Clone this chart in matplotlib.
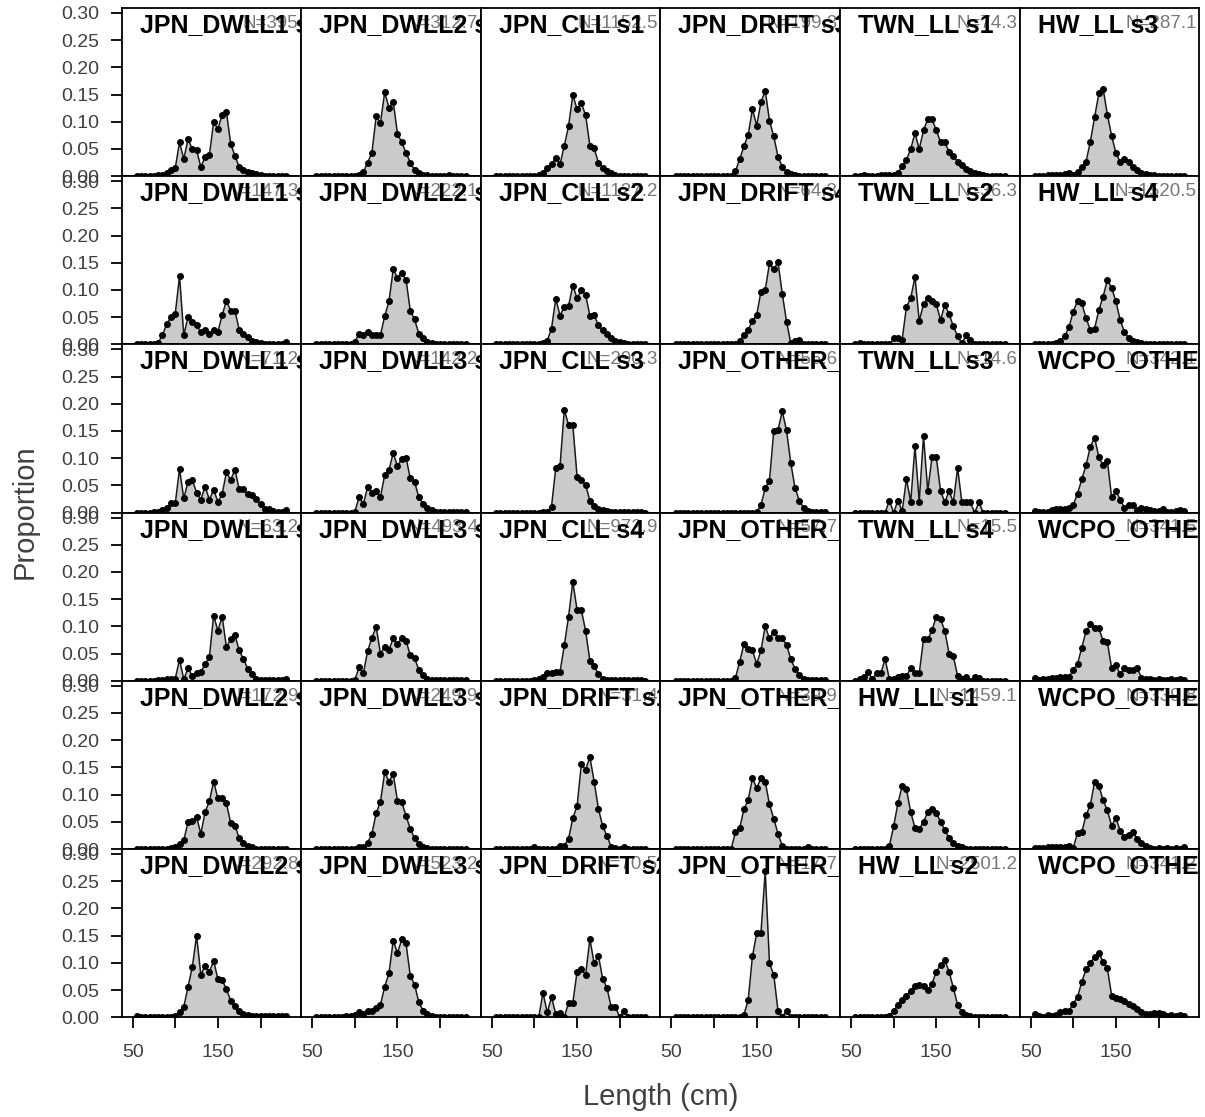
import numpy as np
import matplotlib.pyplot as plt

plt.rcParams['font.family'] = ['Liberation Sans', 'DejaVu Sans']

# length bins (cm)
lengths = [55, 60, 65, 70, 75, 80, 85, 90, 95, 100, 105, 110,
           115, 120, 125, 130, 135, 140, 145, 150, 155, 160, 165, 170,
           175, 180, 185, 190, 195, 200, 205, 210, 215, 220, 225, 230]

# observed proportions by fleet / season
jpn_dwll1_s1 = [0.001,0.001,0.001,0.001,0.001,0.002, 0.002,0.006,0.011,0.015,0.062,0.032,
                0.068,0.050,0.048,0.017,0.035,0.039, 0.099,0.087,0.113,0.118,0.060,0.037,
                0.017,0.012,0.008,0.006,0.004,0.002, 0.001,0.001,0.001,0.001,0.001,0.001]
jpn_dwll1_s2 = [0.000,0.000,0.000,0.000,0.001,0.003, 0.017,0.038,0.050,0.056,0.126,0.017,
                0.051,0.042,0.035,0.023,0.026,0.020, 0.026,0.023,0.054,0.080,0.062,0.062,
                0.027,0.020,0.014,0.007,0.004,0.002, 0.001,0.001,0.001,0.001,0.001,0.004]
jpn_dwll1_s3 = [0.000,0.000,0.000,0.000,0.001,0.002, 0.004,0.008,0.017,0.017,0.080,0.026,
                0.057,0.060,0.037,0.024,0.048,0.024, 0.042,0.020,0.034,0.074,0.060,0.079,
                0.043,0.043,0.034,0.033,0.025,0.016, 0.007,0.006,0.003,0.002,0.001,0.004]
jpn_dwll1_s4 = [0.000,0.000,0.000,0.000,0.000,0.001, 0.002,0.004,0.003,0.004,0.039,0.003,
                0.023,0.009,0.014,0.016,0.031,0.043, 0.120,0.092,0.118,0.062,0.076,0.084,
                0.056,0.040,0.022,0.012,0.004,0.002, 0.001,0.001,0.001,0.001,0.001,0.003]
jpn_dwll2_s1 = [0.000,0.000,0.000,0.000,0.000,0.000, 0.000,0.001,0.002,0.004,0.009,0.016,
                0.050,0.051,0.059,0.028,0.068,0.088, 0.124,0.093,0.094,0.084,0.048,0.043,
                0.020,0.012,0.006,0.003,0.001,0.001, 0.001,0.001,0.001,0.001,0.001,0.001]
jpn_dwll2_s2 = [0.002,0.000,0.000,0.000,0.000,0.000, 0.000,0.001,0.001,0.003,0.009,0.019,
                0.056,0.092,0.150,0.078,0.095,0.083, 0.104,0.070,0.068,0.052,0.030,0.020,
                0.011,0.006,0.004,0.003,0.002,0.002, 0.002,0.002,0.002,0.002,0.002,0.003]
jpn_dwll2_s3 = [0.000,0.000,0.000,0.000,0.000,0.000, 0.000,0.000,0.000,0.001,0.003,0.008,
                0.025,0.043,0.110,0.098,0.154,0.126, 0.137,0.078,0.062,0.043,0.025,0.012,
                0.006,0.003,0.002,0.001,0.001,0.001, 0.001,0.002,0.001,0.001,0.001,0.000]
jpn_dwll2_s4 = [0.000,0.000,0.000,0.000,0.000,0.000, 0.000,0.000,0.001,0.005,0.020,0.017,
                0.023,0.017,0.017,0.017,0.052,0.079, 0.138,0.122,0.131,0.119,0.062,0.046,
                0.020,0.011,0.005,0.003,0.001,0.001, 0.001,0.001,0.001,0.001,0.001,0.000]
jpn_dwll3_s1 = [0.000,0.000,0.000,0.000,0.000,0.000, 0.000,0.000,0.000,0.002,0.028,0.016,
                0.047,0.037,0.040,0.029,0.069,0.078, 0.110,0.085,0.099,0.101,0.063,0.057,
                0.028,0.016,0.008,0.004,0.002,0.001, 0.001,0.001,0.001,0.001,0.001,0.001]
jpn_dwll3_s2 = [0.000,0.000,0.000,0.000,0.000,0.000, 0.000,0.000,0.000,0.002,0.025,0.014,
                0.055,0.079,0.099,0.050,0.062,0.057, 0.078,0.068,0.078,0.074,0.047,0.042,
                0.020,0.011,0.004,0.002,0.001,0.001, 0.001,0.001,0.001,0.001,0.001,0.001]
jpn_dwll3_s3 = [0.000,0.000,0.000,0.000,0.000,0.000, 0.000,0.000,0.000,0.001,0.003,0.003,
                0.012,0.028,0.066,0.087,0.141,0.124, 0.138,0.088,0.086,0.061,0.037,0.020,
                0.009,0.004,0.002,0.001,0.001,0.001, 0.001,0.001,0.001,0.001,0.001,0.001]
jpn_dwll3_s4 = [0.000,0.000,0.000,0.000,0.000,0.000, 0.001,0.003,0.002,0.004,0.009,0.006,
                0.012,0.012,0.017,0.023,0.056,0.081, 0.141,0.118,0.143,0.136,0.076,0.060,
                0.028,0.012,0.006,0.003,0.001,0.001, 0.001,0.001,0.001,0.001,0.001,0.000]
jpn_cll_s1 = [0.000,0.000,0.000,0.000,0.000,0.000, 0.000,0.000,0.000,0.001,0.002,0.005,
              0.015,0.022,0.034,0.022,0.056,0.092, 0.149,0.123,0.134,0.112,0.056,0.051,
              0.025,0.016,0.009,0.005,0.003,0.001, 0.001,0.001,0.001,0.001,0.001,0.001]
jpn_cll_s2 = [0.000,0.000,0.000,0.000,0.000,0.000, 0.000,0.000,0.000,0.000,0.001,0.002,
              0.007,0.029,0.084,0.053,0.069,0.071, 0.108,0.085,0.100,0.091,0.053,0.054,
              0.035,0.026,0.020,0.012,0.007,0.004, 0.002,0.001,0.001,0.001,0.001,0.001]
jpn_cll_s3 = [0.000,0.000,0.000,0.000,0.000,0.000, 0.000,0.000,0.000,0.000,0.000,0.001,
              0.002,0.011,0.082,0.086,0.189,0.161, 0.161,0.066,0.060,0.051,0.022,0.012,
              0.007,0.005,0.003,0.001,0.001,0.001, 0.001,0.001,0.001,0.001,0.001,0.000]
jpn_cll_s4 = [0.000,0.000,0.000,0.000,0.000,0.000, 0.000,0.000,0.000,0.001,0.003,0.008,
              0.014,0.014,0.016,0.017,0.065,0.118, 0.182,0.130,0.130,0.092,0.037,0.028,
              0.012,0.004,0.001,0.001,0.001,0.001, 0.001,0.001,0.001,0.001,0.001,0.000]
jpn_drift_s1 = [0.000,0.000,0.000,0.000,0.000,0.000, 0.000,0.000,0.000,0.004,0.000,0.000,
                0.000,0.000,0.000,0.006,0.006,0.019, 0.057,0.079,0.156,0.146,0.169,0.124,
                0.074,0.042,0.024,0.004,0.002,0.000, 0.003,0.001,0.001,0.001,0.001,0.001]
jpn_drift_s2 = [0.000,0.000,0.000,0.000,0.000,0.000, 0.000,0.000,0.000,0.000,0.000,0.045,
                0.009,0.037,0.006,0.008,0.000,0.027, 0.027,0.084,0.089,0.078,0.144,0.099,
                0.113,0.071,0.054,0.019,0.019,0.000, 0.012,0.000,0.000,0.000,0.000,0.000]
jpn_drift_s3 = [0.000,0.000,0.000,0.000,0.000,0.000, 0.000,0.000,0.000,0.000,0.000,0.000,
                0.000,0.001,0.009,0.031,0.055,0.076, 0.123,0.093,0.136,0.157,0.102,0.073,
                0.036,0.017,0.008,0.004,0.002,0.001, 0.001,0.001,0.001,0.001,0.001,0.000]
jpn_drift_s4 = [0.000,0.000,0.000,0.000,0.000,0.000, 0.000,0.000,0.000,0.000,0.000,0.000,
                0.000,0.000,0.001,0.007,0.017,0.027, 0.043,0.054,0.097,0.100,0.149,0.138,
                0.151,0.093,0.042,0.002,0.007,0.009, 0.001,0.001,0.000,0.000,0.000,0.000]
jpn_other_s1 = [0.000,0.000,0.000,0.000,0.000,0.000, 0.000,0.000,0.000,0.000,0.000,0.000,
                0.000,0.000,0.000,0.000,0.000,0.000, 0.000,0.001,0.014,0.045,0.059,0.150,
                0.152,0.186,0.151,0.091,0.045,0.022, 0.009,0.003,0.001,0.001,0.001,0.001]
jpn_other_s2 = [0.000,0.000,0.000,0.000,0.000,0.000, 0.000,0.000,0.000,0.000,0.000,0.000,
                0.000,0.000,0.005,0.035,0.067,0.059, 0.056,0.031,0.056,0.100,0.078,0.090,
                0.078,0.078,0.066,0.040,0.022,0.011, 0.004,0.001,0.001,0.001,0.001,0.001]
jpn_other_s3 = [0.000,0.000,0.000,0.000,0.000,0.000, 0.000,0.000,0.000,0.000,0.000,0.000,
                0.000,0.000,0.031,0.038,0.073,0.090, 0.130,0.112,0.130,0.124,0.082,0.056,
                0.028,0.006,0.001,0.001,0.001,0.001, 0.001,0.003,0.001,0.001,0.001,0.001]
jpn_other_s4 = [0.000,0.000,0.000,0.000,0.000,0.000, 0.000,0.000,0.000,0.000,0.000,0.000,
                0.000,0.000,0.000,0.000,0.005,0.031, 0.112,0.154,0.155,0.268,0.099,0.078,
                0.012,0.001,0.012,0.000,0.000,0.000, 0.000,0.000,0.000,0.000,0.000,0.000]
twn_ll_s1 = [0.000,0.001,0.002,0.001,0.001,0.001, 0.002,0.002,0.003,0.003,0.006,0.019,
             0.030,0.050,0.079,0.050,0.084,0.105, 0.105,0.084,0.063,0.062,0.045,0.037,
             0.027,0.020,0.014,0.010,0.006,0.004, 0.002,0.001,0.001,0.001,0.001,0.000]
twn_ll_s2 = [0.000,0.003,0.000,0.000,0.000,0.001, 0.000,0.001,0.000,0.011,0.011,0.009,
             0.069,0.085,0.124,0.043,0.074,0.085, 0.079,0.074,0.045,0.073,0.056,0.033,
             0.015,0.002,0.017,0.009,0.001,0.001, 0.000,0.000,0.000,0.000,0.000,0.000]
twn_ll_s3 = [0.000,0.000,0.000,0.000,0.000,0.000, 0.000,0.000,0.022,0.000,0.022,0.003,
             0.062,0.020,0.122,0.020,0.141,0.040, 0.102,0.102,0.040,0.019,0.040,0.019,
             0.082,0.019,0.019,0.019,0.000,0.019, 0.000,0.000,0.000,0.000,0.000,0.000]
twn_ll_s4 = [0.000,0.003,0.008,0.016,0.003,0.014, 0.014,0.040,0.003,0.003,0.008,0.009,
             0.009,0.023,0.014,0.014,0.076,0.076, 0.093,0.118,0.113,0.092,0.050,0.045,
             0.009,0.003,0.007,0.000,0.007,0.006, 0.000,0.000,0.000,0.000,0.000,0.000]
hw_ll_s1 = [0.000,0.000,0.000,0.000,0.000,0.000, 0.000,0.000,0.006,0.042,0.084,0.116,
            0.110,0.068,0.039,0.037,0.050,0.068, 0.074,0.066,0.050,0.035,0.020,0.011,
            0.005,0.003,0.001,0.001,0.001,0.001, 0.001,0.001,0.001,0.001,0.001,0.001]
hw_ll_s2 = [0.000,0.000,0.000,0.000,0.000,0.000, 0.000,0.000,0.003,0.012,0.023,0.032,
            0.040,0.048,0.058,0.059,0.058,0.050, 0.062,0.084,0.096,0.105,0.084,0.054,
            0.023,0.009,0.004,0.002,0.001,0.001, 0.001,0.001,0.001,0.001,0.001,0.001]
hw_ll_s3 = [0.001,0.001,0.001,0.002,0.002,0.002, 0.003,0.004,0.005,0.003,0.008,0.017,
            0.027,0.063,0.108,0.152,0.161,0.113, 0.074,0.043,0.026,0.031,0.026,0.017,
            0.011,0.006,0.004,0.003,0.002,0.001, 0.001,0.001,0.001,0.001,0.001,0.001]
hw_ll_s4 = [0.001,0.001,0.001,0.001,0.001,0.002, 0.007,0.015,0.032,0.060,0.080,0.076,
            0.048,0.027,0.029,0.063,0.088,0.118, 0.104,0.079,0.045,0.023,0.012,0.007,
            0.004,0.003,0.001,0.001,0.001,0.001, 0.001,0.001,0.001,0.001,0.001,0.001]
wcpo_other_s1 = [0.003,0.001,0.002,0.002,0.004,0.006, 0.007,0.006,0.009,0.014,0.035,0.061,
                 0.087,0.121,0.138,0.102,0.087,0.095, 0.028,0.040,0.024,0.009,0.014,0.014,
                 0.004,0.009,0.006,0.004,0.003,0.003, 0.006,0.002,0.002,0.003,0.005,0.003]
wcpo_other_s2 = [0.006,0.001,0.003,0.004,0.006,0.005, 0.008,0.007,0.008,0.020,0.031,0.061,
                 0.091,0.104,0.097,0.097,0.073,0.071, 0.023,0.029,0.012,0.023,0.020,0.020,
                 0.023,0.006,0.004,0.003,0.002,0.003, 0.002,0.002,0.003,0.002,0.003,0.002]
wcpo_other_s3 = [0.002,0.002,0.002,0.003,0.003,0.004, 0.003,0.004,0.006,0.002,0.030,0.031,
                 0.062,0.081,0.123,0.116,0.090,0.071, 0.043,0.057,0.034,0.022,0.026,0.031,
                 0.019,0.012,0.006,0.002,0.001,0.002, 0.001,0.002,0.001,0.002,0.001,0.003]
wcpo_other_s4 = [0.006,0.003,0.000,0.004,0.003,0.005, 0.009,0.012,0.012,0.025,0.037,0.065,
                 0.088,0.100,0.110,0.118,0.102,0.090, 0.040,0.036,0.033,0.030,0.025,0.020,
                 0.015,0.010,0.006,0.006,0.008,0.008, 0.006,0.003,0.005,0.002,0.004,0.003]

# panels are filled column by column
titles = ["JPN_DWLL1 s1", "JPN_DWLL1 s2", "JPN_DWLL1 s3", "JPN_DWLL1 s4", "JPN_DWLL2 s1", "JPN_DWLL2 s2",
          "JPN_DWLL2 s3", "JPN_DWLL2 s4", "JPN_DWLL3 s1", "JPN_DWLL3 s2", "JPN_DWLL3 s3", "JPN_DWLL3 s4",
          "JPN_CLL s1", "JPN_CLL s2", "JPN_CLL s3", "JPN_CLL s4", "JPN_DRIFT s1", "JPN_DRIFT s2",
          "JPN_DRIFT s3", "JPN_DRIFT s4", "JPN_OTHER_ s1", "JPN_OTHER_ s2", "JPN_OTHER_ s3", "JPN_OTHER_ s4",
          "TWN_LL s1", "TWN_LL s2", "TWN_LL s3", "TWN_LL s4", "HW_LL s1", "HW_LL s2",
          "HW_LL s3", "HW_LL s4", "WCPO_OTHER s1", "WCPO_OTHER s2", "WCPO_OTHER s3", "WCPO_OTHER s4"]
n_labels = ["N=395", "N=147.3", "N=71.2", "N=63.2", "N=172.9", "N=292.8",
            "N=312.7", "N=222.1", "N=142.2", "N=493.4", "N=249.9", "N=523.2",
            "N=1152.5", "N=1127.2", "N=290.3", "N=972.9", "N=31.4", "N=70.5",
            "N=199.3", "N=64.3", "N=56.6", "N=57.7", "N=39.9", "N=17.7",
            "N=74.3", "N=36.3", "N=14.6", "N=15.5", "N=1459.1", "N=2501.2",
            "N=287.1", "N=1520.5", "N=342.1", "N=341.5", "N=339.8", "N=341.2"]
props = [jpn_dwll1_s1, jpn_dwll1_s2, jpn_dwll1_s3, jpn_dwll1_s4, jpn_dwll2_s1, jpn_dwll2_s2,
         jpn_dwll2_s3, jpn_dwll2_s4, jpn_dwll3_s1, jpn_dwll3_s2, jpn_dwll3_s3, jpn_dwll3_s4,
         jpn_cll_s1, jpn_cll_s2, jpn_cll_s3, jpn_cll_s4, jpn_drift_s1, jpn_drift_s2,
         jpn_drift_s3, jpn_drift_s4, jpn_other_s1, jpn_other_s2, jpn_other_s3, jpn_other_s4,
         twn_ll_s1, twn_ll_s2, twn_ll_s3, twn_ll_s4, hw_ll_s1, hw_ll_s2,
         hw_ll_s3, hw_ll_s4, wcpo_other_s1, wcpo_other_s2, wcpo_other_s3, wcpo_other_s4]

grey_txt = '#404040'
fig = plt.figure(figsize=(12.05, 11.17), dpi=100)
axes = fig.subplots(6, 6, gridspec_kw=dict(wspace=0, hspace=0))
fig.subplots_adjust(left=121.7/1205, right=1199.3/1205, top=1-8/1117, bottom=1-1017.3/1117)

for k in range(36):
    col = k // 6
    row = k % 6
    ax = axes[row, col]
    y = np.array(props[k])
    ax.fill_between(lengths, 0, y, color='#cacaca', lw=0)
    ax.plot(lengths, y, color='#1a1a1a', lw=1.1, marker='o', ms=4.0, mfc='black', mec='black')
    ax.set_xlim(37.2, 247.8)
    ax.set_ylim(0, 0.309)
    for s in ax.spines.values():
        s.set_linewidth(1.3)
    ax.text(0.1, 0.857, titles[k], transform=ax.transAxes, fontsize=18, fontweight='bold',
            ha='left', va='baseline', clip_on=True, zorder=5)
    ax.text(0.985, 0.883, n_labels[k], transform=ax.transAxes, fontsize=13.5, color='#777777',
            ha='right', va='baseline', clip_on=True, zorder=4)
    ax.set_xticks([50, 100, 150, 200])
    ax.set_yticks([0, 0.05, 0.10, 0.15, 0.20, 0.25, 0.30])
    ax.tick_params(direction='out', length=8, width=1.3, colors='black', labelcolor=grey_txt,
                   labelsize=14, pad=8.5)
    if row == 5:
        ax.set_xticklabels(['50', '', '150', ''])
        ax.tick_params(axis='x', pad=11)
    else:
        ax.tick_params(axis='x', bottom=False, labelbottom=False)
    if col == 0:
        ax.set_yticklabels(['0.00', '0.05', '0.10', '0.15', '0.20', '0.25', '0.30'])
    else:
        ax.tick_params(axis='y', left=False, labelleft=False)

fig.text(0.5 * (121.7 + 1199.3) / 1205, 1 - 1097/1117, 'Length (cm)', fontsize=21, color=grey_txt,
         ha='center', va='center')
fig.text(25/1205, 1 - 512/1117, 'Proportion', fontsize=21, color=grey_txt, rotation=90,
         ha='center', va='center')

plt.savefig('out.png', dpi=100)
